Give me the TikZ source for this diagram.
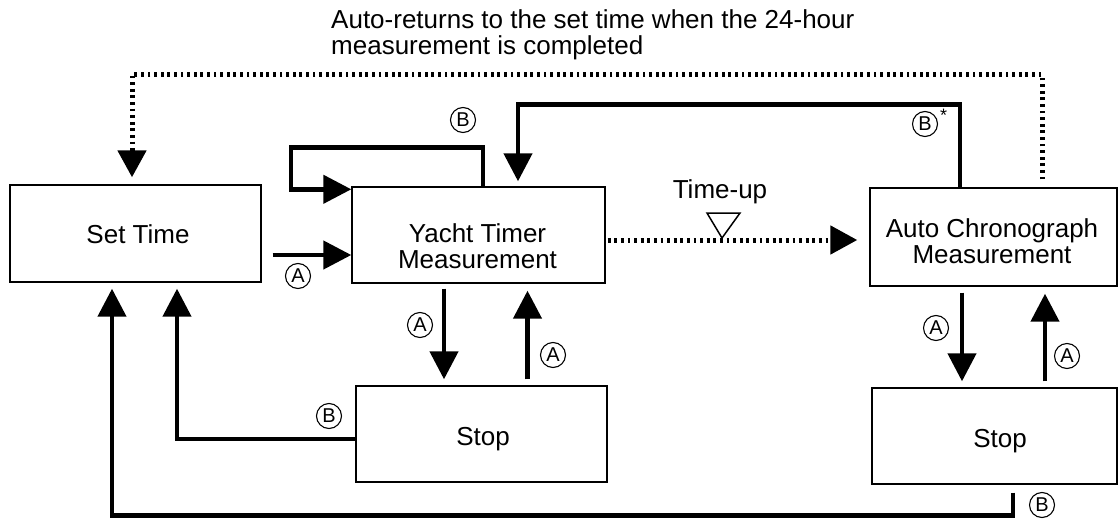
\documentclass[tikz,border=0pt]{standalone}
\usepackage{fontspec}
\setmainfont{Liberation Sans}
\usetikzlibrary{arrows.meta}
\begin{document}
\begin{tikzpicture}[x=1pt,y=-1pt,
  box/.style={draw,line width=1.4pt,inner sep=0pt},
  txt/.style={font=\fontsize{26}{26}\selectfont,align=center,inner sep=0pt},
  toptxt/.style={font=\fontsize{26}{26}\selectfont,inner sep=0pt},
  arr/.style={line width=4.5pt,-{Triangle[width=28pt,length=28pt]}},
  dotarr/.style={line width=5pt,dash pattern=on 2.8pt off 3.8pt,-{Triangle[width=28pt,length=27pt]}},
  circ/.style={circle,draw,line width=1.1pt,minimum size=25pt,inner sep=0pt,font=\fontsize{20}{20}\selectfont}]
\useasboundingbox (0,0) rectangle (1119,519);

% boxes
\node[box,minimum width=251pt,minimum height=97pt] (set) at (135.5,233.5) {};
\node[box,minimum width=253pt,minimum height=96pt] (yacht) at (478.5,235) {};
\node[box,minimum width=247pt,minimum height=98pt] (auto) at (993.5,237) {};
\node[box,minimum width=251pt,minimum height=96pt] (stop1) at (481.5,434) {};
\node[box,minimum width=245pt,minimum height=96pt] (stop2) at (994.5,436) {};

% texts
\node[txt,anchor=base] (setT) at (138,243) {Set Time};
\node[txt,anchor=base] (yachtT) at (477.5,268) {Yacht Timer\\Measurement};
\node[txt,anchor=base] (autoT) at (992,263) {Auto Chronograph\\Measurement};
\node[txt,anchor=base] (stop1T) at (483,445) {Stop};
\node[txt,anchor=base] (stop2T) at (1000,447) {Stop};
\node[txt,anchor=base] (timeup) at (720,198) {Time-up};
\node[toptxt,anchor=base west] (note1) at (331,29) {Auto-returns to the set time when the 24-hour};
\node[toptxt,anchor=base west] (note2) at (331,55) {measurement is completed};

% time-up marker
\draw[line width=1.5pt,line join=miter] (707,213) -- (740,213) -- (722,238) -- cycle;

% connectors
\draw[arr] ([shift={(11pt,-21.5pt)}]set.east) -- ([yshift=-20pt]yacht.west);
\draw[arr] ([xshift=4.5pt]yacht.north) -- ++(0,-39) -| ++(-192,42) -- ([yshift=-3pt]yacht.north west);
\draw[arr] ([xshift=-33.5pt]auto.north) -- ++(0,-83) -| ([xshift=39.5pt,yshift=5pt]yacht.north);
\draw[dotarr] ([xshift=48.5pt,yshift=8pt]auto.north) -- ++(0,-105) -| ([xshift=-3.5pt,yshift=7pt]set.north);
\draw[dotarr] ([xshift=2pt,yshift=-5pt]yacht.east) -- ([xshift=-12pt,yshift=-3pt]auto.west);
\draw[arr] ([xshift=-34.5pt,yshift=-5pt]yacht.south) -- ([xshift=-37.5pt,yshift=6pt]stop1.north);
\draw[arr] ([xshift=46pt,yshift=6pt]stop1.north) -- ([xshift=49pt,yshift=-7pt]yacht.south);
\draw[arr] ([yshift=-5pt]stop1.west) -| ([xshift=41.5pt,yshift=-6pt]set.south);
\draw[arr] ([xshift=18.5pt,yshift=-8pt]stop2.south) -- ++(0,23) -| ([xshift=-23.5pt,yshift=-6pt]set.south);
\draw[arr] ([xshift=-31.5pt,yshift=-6pt]auto.south) -- ([xshift=-32.5pt,yshift=6pt]stop2.north);
\draw[arr] ([xshift=50.5pt,yshift=6pt]stop2.north) -- ([xshift=51.5pt,yshift=-7pt]auto.south);

% circled labels
\node[circ] (lA1) at (298,276) {A};
\node[circ] (lB1) at (463,120) {B};
\node[circ] (lBs) at (925,124) {B};
\node[font=\fontsize{18}{18}\selectfont,inner sep=0pt] (ast) at (943.5,115) {*};
\node[circ] (lA2) at (420,325) {A};
\node[circ] (lA3) at (553,355) {A};
\node[circ] (lB2) at (329,416) {B};
\node[circ] (lA4) at (936,328) {A};
\node[circ] (lA5) at (1067,356) {A};
\node[circ] (lB3) at (1042,505) {B};
\end{tikzpicture}
\end{document}
